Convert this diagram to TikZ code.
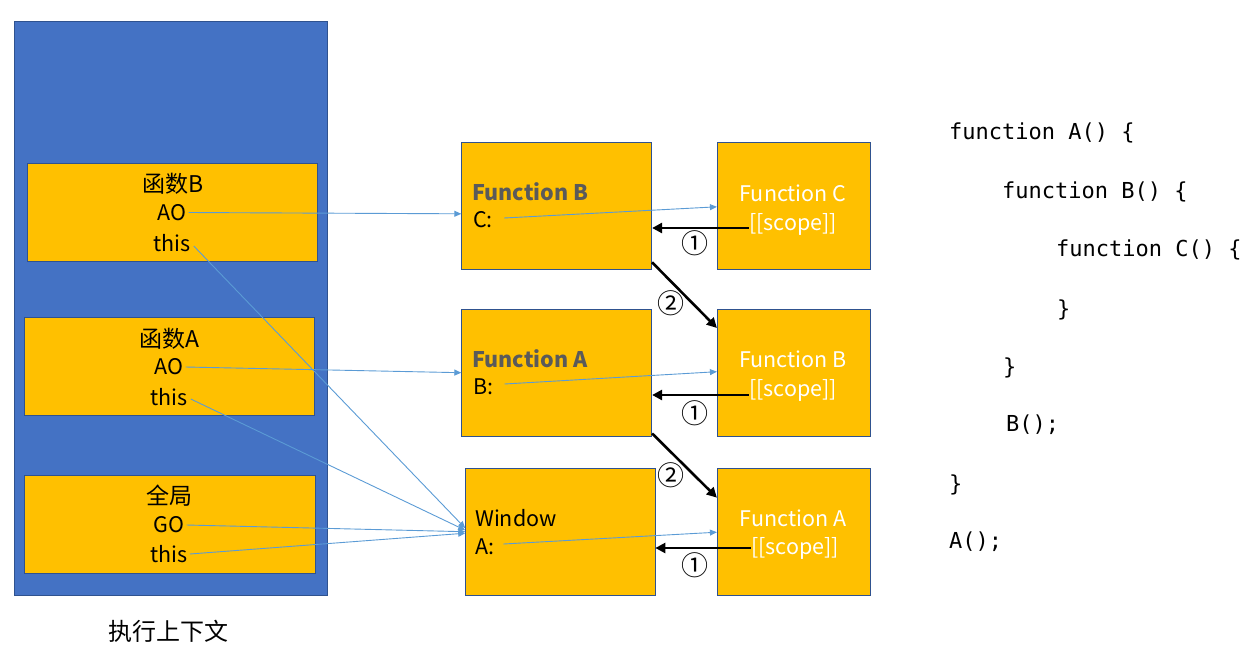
\documentclass[tikz,border=0pt]{standalone}
\usepackage{fontspec}
\setmainfont{Noto Sans CJK SC}
\newfontfamily\codefont{DejaVu Sans Mono}
\usetikzlibrary{arrows.meta}
\definecolor{stackblue}{HTML}{4472C4}
\definecolor{edgeblue}{HTML}{2F528F}
\definecolor{boxgold}{HTML}{FFC000}
\definecolor{dimtext}{HTML}{5A5A5A}
\definecolor{linkblue}{HTML}{5B9BD5}

\begin{document}
\begin{tikzpicture}[x=1pt,y=-1pt,
  goldbox/.style={draw=edgeblue, line width=0.8pt, fill=boxgold, inner sep=0pt},
  txt/.style={font=\fontsize{21.5}{24}\selectfont, inner sep=0pt},
  cjk/.style={font=\fontsize{23}{26}\selectfont, inner sep=0pt},
  wtxt/.style={txt, text=white},
  gtxt/.style={font=\fontsize{21.5}{24}\selectfont\bfseries, inner sep=0pt, text=dimtext, anchor=west},
  ktxt/.style={txt, anchor=west},
  num/.style={font=\fontsize{27}{28}\selectfont, inner sep=0pt},
  code/.style={font=\codefont\fontsize{22}{24}\selectfont, anchor=west, inner sep=0pt},
  link/.style={draw=linkblue, line width=0.9pt, -{Triangle[length=7pt,width=6pt]}},
  chain/.style={draw=black, line width=2.6pt, -{Triangle[length=10pt,width=10pt]}}
]
\useasboundingbox (0,0) rectangle (1257,662);

% execution context stack
\node[draw=edgeblue, line width=0.8pt, fill=stackblue, minimum width=313pt, minimum height=574pt] (stack) at (170.5,308) {};
\node[goldbox, minimum width=290pt, minimum height=98pt] (ctxB) at (172.3,212.2) {};
\node[goldbox, minimum width=290pt, minimum height=98pt] (ctxA) at (169,366) {};
\node[goldbox, minimum width=291pt, minimum height=98pt] (ctxG) at (169.6,524) {};

\node[cjk] (nameB) at (173,184) {函数B};
\node[txt] (aoB) at (172,212.5) {AO};
\node[txt] (thisB) at (172,243) {this};
\node[cjk] (nameA) at (169,339) {函数A};
\node[txt] (aoA) at (169,367) {AO};
\node[txt] (thisA) at (169,397) {this};
\node[cjk] (nameG) at (169,496) {全局};
\node[txt] (goG) at (169,525) {GO};
\node[txt] (thisG) at (169,554) {this};

\node[font=\fontsize{24}{26}\selectfont, inner sep=0pt] (caption) at (168,631) {执行上下文};

% activation objects
\node[goldbox, minimum width=190pt, minimum height=126.3pt] (fnB) at (556.7,205.8) {};
\node[goldbox, minimum width=190pt, minimum height=126.7pt] (fnA) at (556.7,372.7) {};
\node[goldbox, minimum width=189.3pt, minimum height=126.7pt] (win) at (560.3,531.7) {};

\node[gtxt] (fnBname) at (472,192) {Function B};
\node[ktxt] (varC) at (473,220) {C:};
\node[gtxt] (fnAname) at (472,359) {Function A};
\node[ktxt] (varB) at (473,387) {B:};
\node[ktxt] (winname) at (475,518) {Window};
\node[ktxt] (varA) at (475,547) {A:};

% function objects with their scope
\node[goldbox, minimum width=153.4pt, minimum height=126.3pt] (objC) at (794,205.8) {};
\node[goldbox, minimum width=153.4pt, minimum height=126.7pt] (objB) at (794,372.7) {};
\node[goldbox, minimum width=153.4pt, minimum height=126.7pt] (objA) at (794,531.7) {};

\node[wtxt] (objCname) at (793,193) {Function C};
\node[wtxt] (scopeC) at (793,224) {[[scope]]};
\node[wtxt] (objBname) at (793,359) {Function B};
\node[wtxt] (scopeB) at (793,390) {[[scope]]};
\node[wtxt] (objAname) at (793,518) {Function A};
\node[wtxt] (scopeA) at (795,548) {[[scope]]};

% references from the contexts
\draw[link] ([xshift=2pt]aoB.east) -- ([yshift=-8pt]fnB.west);
\draw[link] ([xshift=2pt]aoA.east) -- (fnA.west);
\draw[link] ([xshift=2pt]goG.east) -- (win.west);
\draw[link] ([xshift=2pt]thisG.east) -- ([yshift=-1.5pt]win.west);
\draw[link] ([xshift=3pt,yshift=-2pt]thisA.east) -- ([yshift=1.5pt]win.west);
\draw[link] ([xshift=3pt,yshift=-3pt]thisB.east) -- ([yshift=3.5pt]win.west);

\draw[link] ([xshift=11pt,yshift=2pt]varC.east) -- ([yshift=-1pt]objC.west);
\draw[link] ([xshift=11pt,yshift=3pt]varB.east) -- ([yshift=1pt]objB.west);
\draw[link] ([xshift=9pt,yshift=3pt]varA.east) -- ([yshift=-0.5pt]objA.west);

% scope chain
\draw[chain] ([yshift=-4pt]scopeC.west) -- ([yshift=-4pt]scopeC.west -| fnB.east);
\draw[chain] ([yshift=-5pt]scopeB.west) -- ([yshift=-5pt]scopeB.west -| fnA.east);
\draw[chain] (scopeA.west) -- (scopeA.west -| win.east);
\draw[chain] ([yshift=7pt]fnB.south east) -- ([yshift=-19pt]objB.north west);
\draw[chain] ([yshift=3pt]fnA.south east) -- ([yshift=-29.7pt]objA.north west);

\node[num] (n1a) at (695,243) {①};
\node[num] (n1b) at (695,413) {①};
\node[num] (n1c) at (695,565) {①};
\node[num] (n2a) at (671,303) {②};
\node[num] (n2b) at (671,475) {②};

% source code
\node[code] (l1) at (949,133) {function A() \{};
\node[code] (l2) at (1002,192) {function B() \{};
\node[code] (l3) at (1056,250) {function C() \{};
\node[code] (l4) at (1057,310) {\}};
\node[code] (l5) at (1003,368) {\}};
\node[code] (l6) at (1006,425) {B();};
\node[code] (l7) at (949,485) {\}};
\node[code] (l8) at (949,542) {A();};
\end{tikzpicture}
\end{document}
